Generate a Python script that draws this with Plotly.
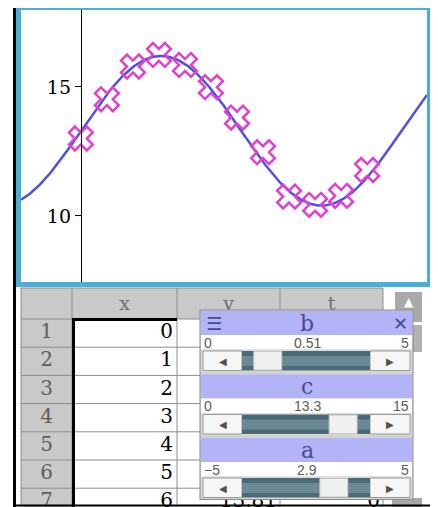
import numpy as np
import plotly.graph_objects as go

W, H = 438, 507          # target window
OFF = 8                  # default page margin of the html body
FW, FH = W - OFF, H - OFF  # figure size so that the figure ends at the window edge

# ---------------- data ----------------
x_points = [0, 1, 2, 3, 4, 5, 6, 7, 8, 9, 10, 11]
y_points = [13.0, 14.52, 15.79, 16.24, 15.85, 14.99, 13.81, 12.47, 10.75, 10.43, 10.78, 11.78]
param_a = 2.9
param_b = 0.51
param_c = 13.3
slider_names = ["b", "c", "a"]
slider_values = [0.51, 13.3, 2.9]
slider_mins = [0, 0, -5]
slider_maxs = [5, 15, 5]
slider_value_labels = ["0.51", "13.3", "2.9"]
slider_min_labels = ["0", "0", "\u22125"]
slider_max_labels = ["5", "15", "5"]
x_view = [-2.3, 13.3]
y_view = [7.44, 17.98]
y_tick_values = [10, 15]
column_headers = ["x", "y", "t"]
row_numbers = [1, 2, 3, 4, 5, 6, 7]
t_row7 = "0"

# fitted function y = a*sin(b*x) + c drawn from the slider parameters
x_curve = np.linspace(x_view[0], x_view[1], 400)
y_curve = param_a * np.sin(param_b * x_curve) + param_c

# ---------------- layout geometry (window pixels) ----------------
PL, PR, PT, PB = 21, 427, 10, 282
SERIF = "DejaVu Serif"
SANS = "Liberation Sans"

shapes = []
annots = []


def R(x0, y0, x1, y1, fill=None, lc=None, lw=0, layer="below"):
    d = dict(type="rect", xref="x2", yref="y2", x0=x0, y0=y0, x1=x1, y1=y1,
             layer=layer, line=dict(width=lw, color=lc or "rgba(0,0,0,0)"))
    if fill:
        d["fillcolor"] = fill
    shapes.append(d)


def L(x0, y0, x1, y1, color, w, layer="below"):
    shapes.append(dict(type="line", xref="x2", yref="y2", x0=x0, y0=y0, x1=x1, y1=y1,
                       layer=layer, line=dict(color=color, width=w)))


def A(x, y, text, size, color, font=SANS, xanchor="center"):
    annots.append(dict(xref="x2", yref="y2", x=x, y=y, text=text, showarrow=False,
                       xanchor=xanchor, yanchor="middle",
                       font=dict(family=font, size=size, color=color)))


# ---------------- table area ----------------
col_edges = [21, 72, 177, 280, 383]
row_edges = [288, 319, 347.2, 375.4, 403.6, 431.8, 460, 488.2, 516.4]
row_centers = [(row_edges[i + 1] + row_edges[i + 2]) / 2 for i in range(7)]

R(16, 287, 432, 507, fill="white")
R(col_edges[0], row_edges[0], col_edges[-1], row_edges[1], fill="#c9c9c9")
R(col_edges[0], row_edges[1], col_edges[1], 507, fill="#c9c9c9")
for ye in row_edges[:-1]:
    L(col_edges[0], ye, col_edges[-1], ye, "#8d8d8d", 1)
for xe in col_edges:
    L(xe, row_edges[0], xe, 507, "#8d8d8d", 1)
L(73.5, row_edges[1], 73.5, 507, "black", 3)
L(72, row_edges[1] + 0.5, 177, row_edges[1] + 0.5, "black", 3)

# scrollbar
R(395, 292, 422, 322, fill="#a9a9a9")
R(395, 325, 422, 352, fill="#b3b3b3")
R(392, 498, 422, 507, fill="#a9a9a9")

# ---------------- slider panel ----------------
R(200, 310, 413, 499.5, fill="#d2d2d2", lc="#8a8a8a", lw=1, layer="above")
tops = [310, 373.5, 437]
for i, top in enumerate(tops):
    R(201, top + 1, 412, top + 25, fill="#b3b3f7", layer="above")
    R(201, top + 25, 412, top + 39.5, fill="white", layer="above")
    R(201, top + 39.5, 412, top + 61.5, fill="#dcdcdc", layer="above")
    R(203, top + 41, 242, top + 60.5, fill="#f6f6f6", lc="#9a9a9a", lw=1, layer="above")
    R(370, top + 41, 410, top + 60.5, fill="#f6f6f6", lc="#9a9a9a", lw=1, layer="above")
    R(242, top + 41, 370, top + 60.5, fill="#4c6a76", layer="above")
    R(242, top + 46, 370, top + 56, fill="#6b8994", layer="above")
    frac = (slider_values[i] - slider_mins[i]) / (slider_maxs[i] - slider_mins[i])
    tx = 244 + frac * 96
    R(tx, top + 41.5, tx + 28, top + 60, fill="#f0f0f0", lc="#c4c4c4", lw=1, layer="above")
    A(307, top + 13, slider_names[i], 22, "#4a4a8e", font=SERIF)
    A(202, top + 32.5, slider_min_labels[i], 14, "#5a5a5a", xanchor="left")
    A(307, top + 32.5, slider_value_labels[i], 14, "#5a5a5a")
    A(411, top + 32.5, slider_max_labels[i], 14, "#5a5a5a", xanchor="right")
    A(222.5, top + 51, "\u25C0", 10, "#505050", font="DejaVu Sans")
    A(390, top + 51, "\u25B6", 10, "#505050", font="DejaVu Sans")
A(214, tops[0] + 13, "\u2630", 18, "#4a4a8e", font="DejaVu Sans")
A(400, tops[0] + 13, "\u2715", 18, "#4a4a8e", font="DejaVu Sans")

# ---------------- frames ----------------
shapes.append(dict(type="rect", xref="x2", yref="y2", x0=18.5, y0=7.5, x1=429.5, y1=284.5,
                   layer="above", line=dict(color="#4aaed7", width=5)))
L(14.5, 4, 14.5, 507, "black", 3, layer="above")
L(14, 4.5, 434, 4.5, "black", 2, layer="above")
L(433, 4, 433, 507, "black", 2, layer="above")
L(14, 505.5, 434, 505.5, "black", 2, layer="above")

# ---------------- figure ----------------
fig = go.Figure()
fig.add_trace(go.Scatter(x=x_curve, y=y_curve, mode="lines",
                         line=dict(color="#4f4fe2", width=2.5), hoverinfo="skip"))
fig.add_trace(go.Scatter(x=x_points, y=y_points, mode="markers",
                         marker=dict(symbol="x-open", size=21, color="#e040cc",
                                     line=dict(color="#e040cc", width=2.5)),
                         hoverinfo="skip"))

# table text (drawn as traces so the slider panel can cover it)
fig.add_trace(go.Scatter(x=[124.5, 228.5, 331.5], y=[305] * 3, text=column_headers,
                         mode="text", xaxis="x2", yaxis="y2",
                         textfont=dict(family=SERIF, size=19, color="#6e6e6e")))
fig.add_trace(go.Scatter(x=[46.5] * 7, y=row_centers, text=[str(r) for r in row_numbers],
                         mode="text", xaxis="x2", yaxis="y2",
                         textfont=dict(family=SERIF, size=20, color="#5e5e5e")))
fig.add_trace(go.Scatter(x=[173] * 7, y=row_centers, text=[str(v) for v in x_points[:7]],
                         mode="text", textposition="middle left", xaxis="x2", yaxis="y2",
                         textfont=dict(family=SERIF, size=20, color="black")))
fig.add_trace(go.Scatter(x=[277], y=[row_centers[6]], text=[f"{y_points[6]:.2f}"],
                         mode="text", textposition="middle left", xaxis="x2", yaxis="y2",
                         textfont=dict(family=SERIF, size=20, color="black")))
fig.add_trace(go.Scatter(x=[380], y=[row_centers[6]], text=[t_row7],
                         mode="text", textposition="middle left", xaxis="x2", yaxis="y2",
                         textfont=dict(family=SERIF, size=20, color="black")))
fig.add_trace(go.Scatter(x=[408.5], y=[303], text=["\u25B2"], mode="text",
                         xaxis="x2", yaxis="y2",
                         textfont=dict(family="DejaVu Sans", size=12, color="white")))

# main plot domain in figure fractions (figure starts at window pixel OFF)
xd0, xd1 = (PL - OFF) / FW, (PR - OFF) / FW
yd0, yd1 = 1 - (PB - OFF) / FH, 1 - (PT - OFF) / FH
yaxis_pos = xd0 + (0 - x_view[0]) / (x_view[1] - x_view[0]) * (xd1 - xd0)

fig.update_layout(
    width=FW, height=FH, margin=dict(l=0, r=0, t=0, b=0),
    paper_bgcolor="white", plot_bgcolor="rgba(0,0,0,0)", showlegend=False,
    xaxis=dict(domain=[xd0, xd1], range=x_view, visible=False, fixedrange=True),
    yaxis=dict(domain=[yd0, yd1], range=y_view, anchor="free",
               position=yaxis_pos, showline=True, linecolor="black", linewidth=1,
               ticks="outside", ticklen=6, tickcolor="black", tickwidth=1,
               tickvals=y_tick_values, tickfont=dict(family=SERIF, size=19, color="black"),
               showgrid=False, zeroline=False, fixedrange=True),
    xaxis2=dict(domain=[0, 1], range=[OFF, W], visible=False, anchor="y2", fixedrange=True),
    yaxis2=dict(domain=[0, 1], range=[H, OFF], visible=False, anchor="x2", fixedrange=True),
    shapes=shapes, annotations=annots,
)

fig.write_html("out.html")
